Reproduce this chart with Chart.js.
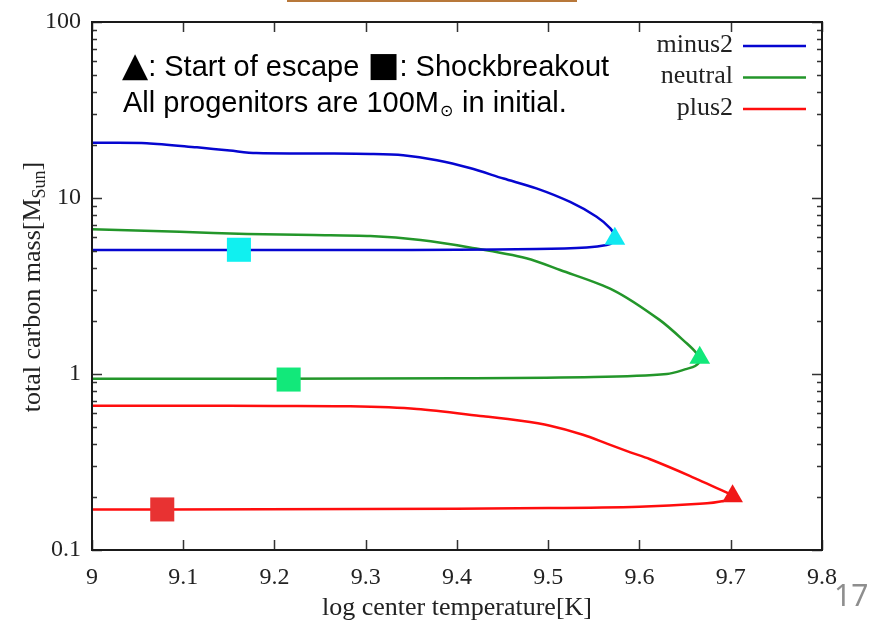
<!DOCTYPE html>
<html>
<head>
<meta charset="utf-8">
<title>total carbon mass</title>
<script src="https://cdn.jsdelivr.net/npm/chart.js@4.4.1/dist/chart.umd.min.js"></script>
<style>
    body { margin: 0; background: #fff; }
    #caixa { position: relative; width: 880px; height: 629px; }
    #faixa { position: absolute; left: 287px; top: 0; width: 290px; height: 2px; background: #b8783a; }
    #pagina { position: absolute; left: 834px; top: 574px; font-family: 'Noto Sans', sans-serif; font-size: 30px; color: #8e8e8e; }
</style>
</head>
<body>
<div id="caixa">
    <canvas id="myChart1"></canvas>
    <div id="faixa"></div>
    <div id="pagina">17</div>
</div>
<script>
// dados (caminho de cada modelo, ida e volta)
const minus2Temp = [9.00, 9.06, 9.115, 9.151, 9.18, 9.25, 9.305, 9.341, 9.378, 9.414, 9.451, 9.487, 9.524, 9.553, 9.568, 9.574, 9.571, 9.564, 9.542, 9.487, 9.40, 9.30, 9.16, 9.00];
const minus2Mass = [20.6, 20.5, 19.4, 18.6, 18.0, 17.9, 17.8, 17.5, 16.4, 14.8, 12.9, 11.35, 9.5, 7.83, 6.72, 5.91, 5.6, 5.4, 5.24, 5.13, 5.08, 5.07, 5.06, 5.06];

const neutralTemp = [9.00, 9.096, 9.17, 9.243, 9.305, 9.36, 9.414, 9.476, 9.513, 9.571, 9.622, 9.652, 9.662, 9.666, 9.661, 9.652, 9.63, 9.55, 9.40, 9.20, 9.00];
const neutralMass = [6.64, 6.43, 6.24, 6.16, 6.08, 5.77, 5.24, 4.55, 3.90, 3.0, 2.03, 1.49, 1.32, 1.19, 1.11, 1.07, 1.0, 0.96, 0.945, 0.94, 0.94];

const plus2Temp = [9.00, 9.10, 9.20, 9.283, 9.356, 9.429, 9.47, 9.502, 9.538, 9.565, 9.590, 9.611, 9.655, 9.699, 9.704, 9.692, 9.666, 9.60, 9.50, 9.30, 9.08, 9.00];
const plus2Mass = [0.66, 0.66, 0.658, 0.655, 0.633, 0.575, 0.542, 0.508, 0.452, 0.401, 0.359, 0.329, 0.264, 0.208, 0.202, 0.19, 0.183, 0.176, 0.173, 0.171, 0.17, 0.17];

// marcadores: triangulo = inicio do escape, quadrado = shock breakout
const escapeTemp = [9.573, 9.666, 9.702];
const escapeMass = [5.86, 1.235, 0.202];
const breakoutTemp = [9.161, 9.2155, 9.077];
const breakoutMass = [5.08, 0.93, 0.17];

const nomesSeries = ['minus2', 'neutral', 'plus2'];
const coresSeries = ['#0606d0', '#23962a', '#ff0d0d'];
const coresTriangulo = ['#10e8f0', '#12e87a', '#f01818'];
const coresQuadrado = ['#10f0f0', '#12e87a', '#e83232'];

const xTicks = [9, 9.1, 9.2, 9.3, 9.4, 9.5, 9.6, 9.7, 9.8];
const yTicks = [0.1, 0.2, 0.3, 0.4, 0.5, 0.6, 0.7, 0.8, 0.9, 1, 2, 3, 4, 5, 6, 7, 8, 9, 10, 20, 30, 40, 50, 60, 70, 80, 90, 100];

const fonteSerif = "'Liberation Serif', 'DejaVu Serif', serif";
const fonteSans = "'Liberation Sans', Arial, sans-serif";

function juntarPontos(xs, ys) {
    return xs.map((x, i) => ({ x: x, y: ys[i] }));
}

const seriesTemp = [minus2Temp, neutralTemp, plus2Temp];
const seriesMass = [minus2Mass, neutralMass, plus2Mass];

let datasets = [];
nomesSeries.forEach((nome, i) => {
    datasets.push({
        label: nome,
        data: juntarPontos(seriesTemp[i], seriesMass[i]),
        showLine: true,
        borderColor: coresSeries[i],
        backgroundColor: coresSeries[i],
        borderWidth: 2.5,
        pointRadius: 0,
        tension: 0.3,
        order: 2
    });
});
nomesSeries.forEach((nome, i) => {
    datasets.push({
        label: 'escape ' + nome,
        data: [{ x: escapeTemp[i], y: escapeMass[i] }],
        pointStyle: 'triangle',
        pointRadius: 12,
        backgroundColor: coresTriangulo[i],
        borderWidth: 0,
        order: 1
    });
    datasets.push({
        label: 'breakout ' + nome,
        data: [{ x: breakoutTemp[i], y: breakoutMass[i] }],
        pointStyle: 'rect',
        pointRadius: 17,
        backgroundColor: coresQuadrado[i],
        borderWidth: 0,
        order: 1
    });
});

// escreve pedacos de texto em sequencia, cada um com sua fonte
function escreverPartes(ctx, partes, x, y) {
    partes.forEach(p => {
        ctx.font = p.font;
        ctx.fillText(p.t, x, y + (p.dy || 0));
        x += ctx.measureText(p.t).width + (p.gap || 0);
    });
}

// desenha moldura, ticks para dentro, legenda, anotacao e titulo do eixo y
const decoracoes = {
    id: 'decoracoes',
    afterDraw(chart) {
        const ctx = chart.ctx;
        const area = chart.chartArea;
        const sx = chart.scales.x;
        const sy = chart.scales.y;
        ctx.save();

        // ticks
        ctx.strokeStyle = '#333';
        ctx.lineWidth = 1.5;
        ctx.beginPath();
        sx.ticks.forEach(t => {
            const px = Math.round(sx.getPixelForValue(t.value)) + 0.5;
            ctx.moveTo(px, area.bottom); ctx.lineTo(px, area.bottom - 10);
            ctx.moveTo(px, area.top); ctx.lineTo(px, area.top + 10);
        });
        sy.ticks.forEach(t => {
            const py = Math.round(sy.getPixelForValue(t.value)) + 0.5;
            const maior = Math.abs(Math.log10(t.value) - Math.round(Math.log10(t.value))) < 1e-6;
            const tam = maior ? 10 : 5;
            ctx.moveTo(area.left, py); ctx.lineTo(area.left + tam, py);
            ctx.moveTo(area.right, py); ctx.lineTo(area.right - tam, py);
        });
        ctx.stroke();

        // moldura
        ctx.strokeStyle = '#1a1a1a';
        ctx.lineWidth = 2;
        ctx.strokeRect(area.left, area.top, area.right - area.left, area.bottom - area.top);

        // legenda
        ctx.font = '26px ' + fonteSerif;
        ctx.textAlign = 'right';
        ctx.textBaseline = 'middle';
        for (let i = 0; i < 3; i++) {
            const ds = chart.data.datasets[i];
            const yy = 45 + i * 31.5;
            ctx.fillStyle = '#222';
            ctx.fillText(ds.label, 733, yy);
            ctx.strokeStyle = ds.borderColor;
            ctx.lineWidth = 2.5;
            ctx.beginPath();
            ctx.moveTo(743, yy + 1); ctx.lineTo(806, yy + 1);
            ctx.stroke();
        }

        // anotacao
        ctx.fillStyle = '#000';
        ctx.textAlign = 'left';
        const grande = '29px ' + fonteSans;
        const simbolo = "34px 'DejaVu Sans', sans-serif";
        escreverPartes(ctx, [
            { t: '▲', font: simbolo, dy: -1 },
            { t: ': Start of escape ', font: grande },
            { t: '■', font: simbolo, dy: -1 },
            { t: ': Shockbreakout', font: grande }
        ], 122, 68);
        escreverPartes(ctx, [
            { t: 'All progenitors are 100M', font: grande, gap: 1 },
            { t: '⊙', font: '16px ' + fonteSans, dy: 8, gap: 1 },
            { t: ' in initial.', font: grande }
        ], 123, 104);

        // titulo do eixo y com subscrito
        ctx.translate(33, 287);
        ctx.rotate(-Math.PI / 2);
        ctx.fillStyle = '#222';
        const a = 'total carbon mass[M';
        ctx.font = '18px ' + fonteSerif;
        const wSub = ctx.measureText('Sun').width;
        ctx.font = '26px ' + fonteSerif;
        const wA = ctx.measureText(a).width;
        const wB = ctx.measureText(']').width;
        escreverPartes(ctx, [
            { t: a, font: '26px ' + fonteSerif },
            { t: 'Sun', font: '18px ' + fonteSerif, dy: 7 },
            { t: ']', font: '26px ' + fonteSerif }
        ], -(wA + wSub + wB) / 2, 0);

        ctx.restore();
    }
};

const config = {
    type: 'scatter',
    data: { datasets: datasets },
    options: {
        responsive: true,
        maintainAspectRatio: false,
        animation: false,
        layout: { padding: { left: 0, right: 58, top: 22, bottom: 0 } },
        plugins: {
            legend: { display: false },
            tooltip: { enabled: false }
        },
        scales: {
            x: {
                type: 'linear',
                min: 9,
                max: 9.8,
                afterBuildTicks: (scale) => { scale.ticks = xTicks.map(v => ({ value: v })); },
                afterFit: (scale) => {
                    scale.height = 79;
                    scale.paddingLeft = 0;
                    scale.paddingRight = 0;
                },
                grid: { display: false, drawTicks: false },
                border: { display: false },
                ticks: {
                    autoSkip: false,
                    maxRotation: 0,
                    padding: 13,
                    color: '#222',
                    font: { family: fonteSerif, size: 24 },
                    callback: (v) => String(Number(v.toFixed(1)))
                },
                title: {
                    display: true,
                    text: 'log center temperature[K]',
                    color: '#222',
                    font: { family: fonteSerif, size: 26 },
                    padding: { top: 0, bottom: 5 }
                }
            },
            y: {
                type: 'logarithmic',
                min: 0.1,
                max: 100,
                afterBuildTicks: (scale) => { scale.ticks = yTicks.map(v => ({ value: v })); },
                afterFit: (scale) => {
                    scale.width = 92;
                    scale.paddingTop = 0;
                    scale.paddingBottom = 0;
                },
                grid: { display: false, drawTicks: false },
                border: { display: false },
                ticks: {
                    autoSkip: false,
                    padding: 11,
                    color: '#222',
                    font: { family: fonteSerif, size: 24 },
                    callback: (v) => {
                        const l = Math.log10(v);
                        return Math.abs(l - Math.round(l)) < 1e-6 ? String(v) : '';
                    }
                }
            }
        }
    },
    plugins: [decoracoes]
};

let myChart = new Chart(document.getElementById('myChart1'), config);
</script>
</body>
</html>
